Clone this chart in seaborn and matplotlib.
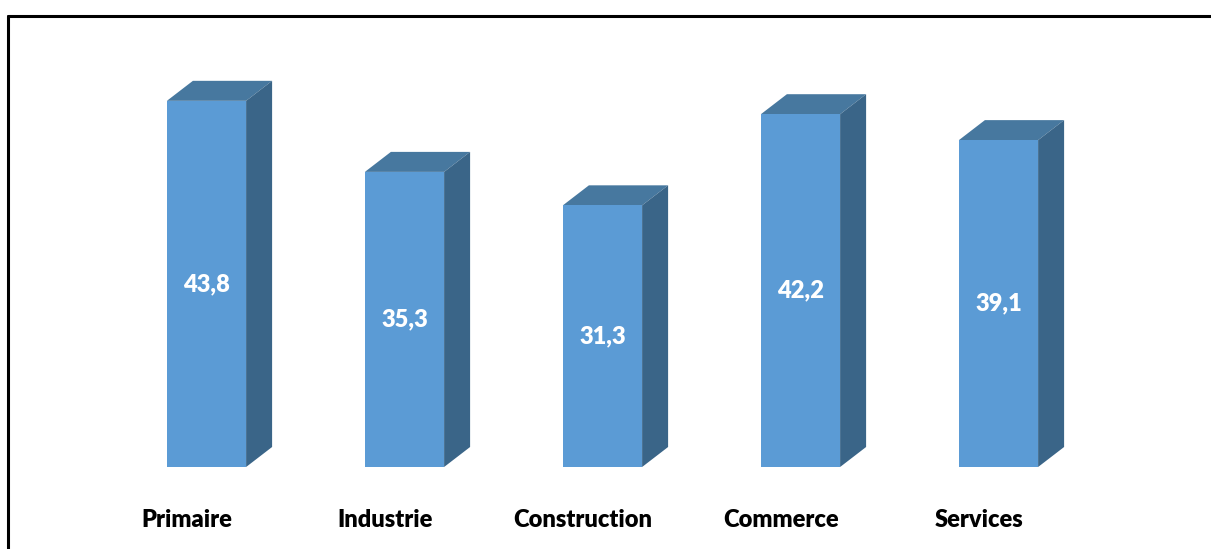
import matplotlib
matplotlib.use("Agg")
import matplotlib.pyplot as plt
from matplotlib.patches import Polygon
from matplotlib.lines import Line2D
import seaborn as sns
import pandas as pd

categories = ["Primaire", "Industrie", "Construction", "Commerce", "Services"]
values = [43.8, 35.3, 31.3, 42.2, 39.1]
value_labels = ["43,8", "35,3", "31,3", "42,2", "39,1"]

front_color = "#5B9BD5"
top_color = "#47789F"
side_color = "#3A6588"

sns.set_theme(style="white")
plt.rcParams["font.family"] = ["Lato", "DejaVu Sans"]

W, H = 1211, 549
fig = plt.figure(figsize=(W / 100, H / 100), dpi=100)

# axes placed so one category step = 198 px and one unit = 8.36 px
px_left, px_right, px_top, px_zero = 30, 1180, 40, 467
first_center = 206.5
step = 198.0
unit = 8.36
ax = fig.add_axes([px_left / W, (H - px_zero) / H,
                   (px_right - px_left) / W, (px_zero - px_top) / H])

df = pd.DataFrame({"cat": categories, "val": values})
sns.barplot(data=df, x="cat", y="val", ax=ax, color=front_color,
            saturation=1, width=0.4, order=categories, zorder=3,
            edgecolor="none", linewidth=0)
ax.set_xlim((px_left - first_center) / step, (px_right - first_center) / step)
ax.set_ylim(0, (px_zero - px_top) / unit)

# depth of the 3D extrusion, in data units
dx = 26 / step
dy = 20 / unit
for bar in ax.patches:
    x0 = bar.get_x()
    w = bar.get_width()
    h = bar.get_height()
    x1 = x0 + w
    top = Polygon([(x0, h), (x1, h), (x1 + dx, h + dy), (x0 + dx, h + dy)],
                  closed=True, facecolor=top_color, edgecolor="none", zorder=2)
    side = Polygon([(x1, 0), (x1 + dx, dy), (x1 + dx, h + dy), (x1, h)],
                   closed=True, facecolor=side_color, edgecolor="none", zorder=2)
    ax.add_patch(top)
    ax.add_patch(side)

for i, (v, lab) in enumerate(zip(values, value_labels)):
    ax.text(i, v / 2, lab, ha="center", va="center", color="white",
            fontsize=17, fontweight="heavy", zorder=5)

ax.set_xticks([i - 0.1 for i in range(len(categories))])
ax.set_xticklabels(categories, fontsize=17, fontweight="heavy", color="black")
ax.tick_params(axis="x", length=0, pad=30)
ax.set_yticks([])
ax.set_xlabel("")
ax.set_ylabel("")
for s in ax.spines.values():
    s.set_visible(False)
ax.patch.set_alpha(0)

# outer frame: top and left edges
fig.add_artist(Line2D([8 / W, 8 / W], [0, 1 - 16 / H], transform=fig.transFigure,
                      color="black", linewidth=2.2))
fig.add_artist(Line2D([8 / W, 1], [1 - 16 / H, 1 - 16 / H], transform=fig.transFigure,
                      color="black", linewidth=2.2))

fig.savefig("out.png", dpi=100)
